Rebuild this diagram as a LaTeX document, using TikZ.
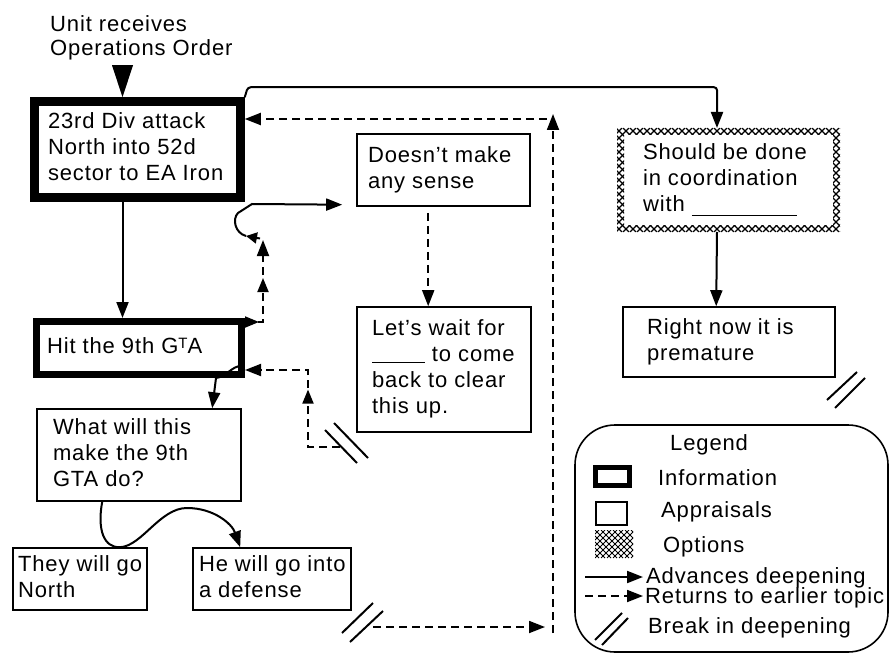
\documentclass[tikz,border=0pt]{standalone}
\usepackage{fontspec}
\setmainfont{Liberation Sans}[LetterSpace=4]
\usetikzlibrary{arrows.meta,calc,decorations.markings}

% left-aligned block of lines inside a box of fixed text width
\newcommand{\inbox}[2]{\makebox[#1][l]{\begin{tabular}{@{}l@{}}#2\end{tabular}}}
% free text, baseline on its first line
\newcommand{\freetext}[1]{\begin{tabular}[t]{@{}l@{}}#1\end{tabular}}

\tikzset{
  tip/.tip={Triangle[length=16pt,width=12pt]},
  thinbox/.style={draw, line width=1.6pt, inner ysep=2pt, anchor=center},
  infobox/.style={draw, inner ysep=2pt, anchor=center},
  adv/.style={draw, line width=2pt, -tip},
  ret/.style={adv, line width=1.8pt, dash pattern=on 8pt off 5pt},
  midtip/.style={postaction={decorate, decoration={markings,
      mark=at position #1 with {\arrow{Triangle[length=14pt,width=11pt]}}}}},
  brk/.style={draw, line width=2pt},
  label/.style={anchor=base west, inner sep=0pt},
  hatchline/.style={line width=1.1pt},
}

\begin{document}
\begin{tikzpicture}[x=1pt, y=-1pt, font=\fontsize{22}{26}\selectfont]
\useasboundingbox (0,0) rectangle (891,655);

% heading
\node[label] (title) at (50,31.5)
  {\fontsize{22}{24}\selectfont\freetext{Unit receives\\Operations Order}};

% information boxes (heavy border)
\node[infobox, line width=8.5pt, minimum width=206, minimum height=96, inner xsep=13.5pt]
  (b1) at (137.5,149.5) {\inbox{179pt}{23rd Div attack\\North into 52d\\sector to EA Iron}};
\node[infobox, line width=7pt, minimum width=205, minimum height=53, inner xsep=10.5pt]
  (b2) at (139,348) {\inbox{184pt}{Hit the 9th G\raisebox{4.5pt}{\fontsize{15}{15}\selectfont T}A}};

% appraisal boxes
\node[thinbox, minimum width=204, minimum height=92, inner xsep=16pt]
  (b3) at (139,455) {\inbox{172pt}{What will this\\make the 9th\\GTA do?}};
\node[thinbox, minimum width=134, minimum height=62, inner xsep=5pt]
  (b4) at (80,579) {\inbox{124pt}{They will go\\North}};
\node[thinbox, minimum width=158, minimum height=62, inner xsep=6pt]
  (b5) at (272,579) {\inbox{146pt}{He will go into\\a defense}};
\node[thinbox, minimum width=173, minimum height=72, inner xsep=11pt]
  (b6) at (443.5,170) {\inbox{151pt}{Doesn't make\\any sense}};
\node[thinbox, minimum width=174, minimum height=125, inner xsep=15pt]
  (b7) at (444,369.5) {\inbox{144pt}{Let's wait for\\\rule[-1pt]{53pt}{1pt} to come\\back to clear\\this up.}};
\node[thinbox, minimum width=212, minimum height=70, inner xsep=24pt]
  (b9) at (729,342) {\inbox{164pt}{Right now it is\\premature}};

% option box (cross-hatched border band)
\node[anchor=center, outer sep=0pt, inner ysep=2pt, minimum width=223, minimum height=104, inner xsep=26pt]
  (b8) at (728.5,180) {\inbox{171pt}{Should be done\\in coordination\\with \rule[-5pt]{105pt}{1pt}}};
\begin{scope}[even odd rule]
  \clip (617,128) rectangle (840,232) (624,135) rectangle (833,225);
  \foreach \x in {511,518,...,840} {
    \draw[hatchline] (\x,128) -- ++(104,104);
    \draw[hatchline] (\x,232) -- ++(104,-104);
  }
\end{scope}

% helper points
\coordinate (ax) at (122.5,0);
\coordinate (j0) at (263,240);
\coordinate (j1) at (260,238.5);
\coordinate (j2) at (246,236);
\coordinate (k1) at (340,447);
\coordinate (k2) at (308,370);
\coordinate (k3) at (373,627);
\coordinate (k4) at (553,633);
\coordinate (k5) at (553,114);
\coordinate (k6) at (547,119);

% order arrives: heavy arrowhead on top of the first box
\fill (b1.north -| ax) -- ++(-10.5,-32) -- ++(21,0) -- cycle;

% advances in deepening
\draw[adv] (b1.south -| ax) -- (b2.north -| ax);
\draw[adv] ($(b2.south east)+(-4,-12)$) .. controls (232,366) and (226,377) .. (216,378)
  -- ($(b3.north west)+(176,0)$);
\draw[adv] ($(b3.south west)+(66,0)$) .. controls (97,530) and (104,548) .. ($(b4.north west)+(108,0)$)
  .. controls (142,546) and (160,508) .. (187,508)
  .. controls (214,508) and (232,524) .. ($(b5.north west)+(48,0)$);
\draw[adv, rounded corners=3pt] (b1.north east) -- ++(3,-10) -| ($(b8.north west)+(100,0)$);
\draw[adv] ($(b8.south west)+(100,0)$) -- ($(b9.north west)+(94,0)$);
\draw[adv, -{Triangle[length=11pt,width=11pt]}] (j1) -- (j2);
\draw[adv, shorten >=14pt] (j2) .. controls (235,233) and (232,219) .. (238,213)
  -- (252,204) -- ($(b6.south west)+(0,-2)$);

% returns to earlier topics
\draw[ret, midtip=0.14, midtip=0.62] ($(b2.north east)+(0,4)$) -| (j0);
\draw[ret, shorten <=6pt] ($(b6.south west)+(72,0)$) -- ($(b7.north west)+(72,0)$);
\draw[ret, midtip=0.52] (k1) -| (k2) -- (k2 -| b2.east);
\draw[ret, shorten >=8pt] (k3) -- (k3 -| k4);
\draw[ret] (k4) -- (k5);
\draw[ret] (k6) -- (k6 -| b1.east);

% breaks in deepening
\draw[brk] (325,430) -- (357,463) (334,423) -- (368,458);
\draw[brk] (342,633) -- (373,603) (350,642) -- (383,611);
\draw[brk] (827,400) -- (857,372) (835,408) -- (865,378);

% legend
\node[draw, line width=1.6pt, rounded corners=40pt, minimum width=313, minimum height=227,
  anchor=center] (legend) at (731.5,538.5) {};
\node[label] (lgtitle) at (670,450) {Legend};
\draw[line width=5.5pt] (595.5,467.5) rectangle (629.5,485.5);
\node[label] (lginfo) at (658,485) {Information};
\draw[line width=1.6pt] (596,502) rectangle (627,525);
\node[label] (lgappr) at (661,517) {Appraisals};
\begin{scope}
  \clip (595,530) rectangle (633,558);
  \foreach \x in {565,571,...,633} {
    \draw[line width=0.8pt] (\x,530) -- ++(28,28);
    \draw[line width=0.8pt] (\x,558) -- ++(28,-28);
  }
\end{scope}
\node[label] (lgopt) at (663,552) {Options};
\coordinate (la1) at (585,577);
\coordinate (la2) at (585,596);
\draw[adv] (la1) -- ++(58,0);
\node[label] (lgadv) at (646,583) {Advances deepening};
\draw[ret] (la2) -- ++(58,0);
\node[label] (lgret) at (645,603) {Returns to earlier topic};
\draw[brk] (595,640) -- (622,613) (602,645) -- (628,618);
\node[label] (lgbrk) at (648,633) {Break in deepening};
\end{tikzpicture}
\end{document}
